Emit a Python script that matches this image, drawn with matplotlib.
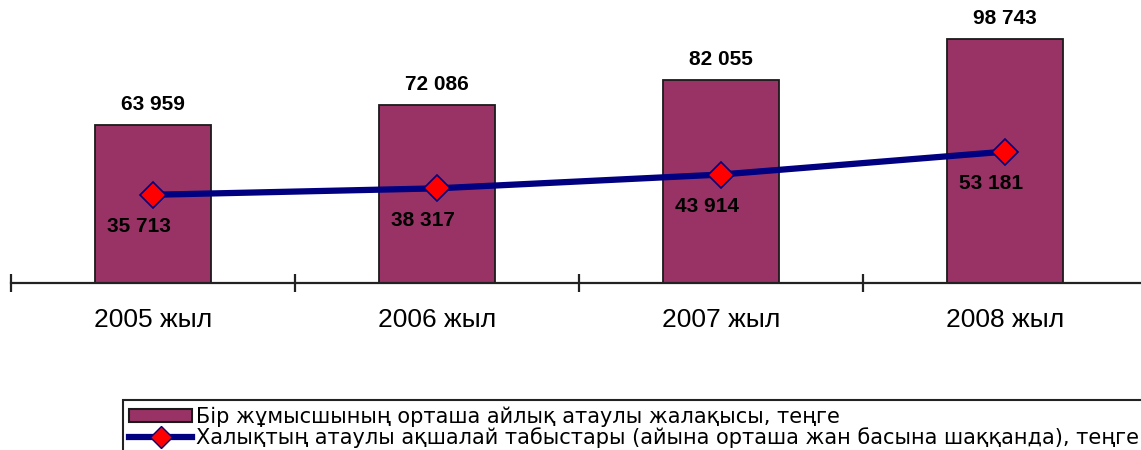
import matplotlib.pyplot as plt
import numpy as np
from matplotlib.lines import Line2D
from matplotlib.patches import Patch

years = ['2005 жыл', '2006 жыл', '2007 жыл', '2008 жыл']
wage = [63959, 72086, 82055, 98743]
income = [35713, 38317, 43914, 53181]
wage_name = 'Бір жұмысшының орташа айлық атаулы жалақысы, теңге'
income_name = 'Халықтың атаулы ақшалай табыстары (айына орташа жан басына шаққанда), теңге'

plt.rcParams['font.family'] = ['Liberation Sans', 'DejaVu Sans']

def fmt(v):
    return f'{v:,}'.replace(',', ' ')

fig = plt.figure(figsize=(11.41, 4.5), dpi=100)
# axis line sits at y=283px, plot spans a bit past the right edge
ax = fig.add_axes([11 / 1141, 1 - 283 / 450, 1136 / 1141, 283 / 450])
x = np.arange(len(years))

ax.bar(x, wage, width=0.405, color='#993366', edgecolor='#1a1a1a', linewidth=1.3, zorder=2)
ax.plot(x, income, color='#000080', linewidth=4.5, marker='D', markersize=13,
        markerfacecolor='#ff0000', markeredgecolor='#000080', markeredgewidth=1.2, zorder=3)

for xi, v in zip(x, wage):
    ax.annotate(fmt(v), (xi, v), xytext=(0, 15), textcoords='offset points',
                ha='center', va='center', fontsize=15, fontweight='bold')
for xi, v in zip(x, income):
    ax.annotate(fmt(v), (xi, v), xytext=(-10, -23), textcoords='offset points',
                ha='center', va='center', fontsize=15, fontweight='bold', zorder=4)

ax.set_xlim(-0.5, 3.5)
ax.set_ylim(0, 114575)
for s in ['top', 'right', 'left']:
    ax.spines[s].set_visible(False)
ax.spines['bottom'].set_linewidth(1.6)
ax.spines['bottom'].set_color('#222222')
ax.set_yticks([])
ax.set_xticks(np.arange(-0.5, 4, 1))
ax.set_xticklabels([])
ax.tick_params(axis='x', direction='inout', length=13, width=1.6, color='#222222')
ax.set_xticks(x, minor=True)
ax.set_xticklabels(years, minor=True, fontsize=19)
ax.tick_params(axis='x', which='minor', length=0, pad=18)

handles = [Patch(facecolor='#993366', edgecolor='#1a1a1a', linewidth=1.5),
           Line2D([], [], color='#000080', linewidth=4.5, marker='D', markersize=11,
                  markerfacecolor='#ff0000', markeredgecolor='#000080')]
leg = fig.legend(handles, [wage_name, income_name], loc='upper left',
                 bbox_to_anchor=(123 / 1141, 1 - 400 / 450),
                 prop={'family': 'DejaVu Sans', 'size': 15},
                 frameon=True, fancybox=False, edgecolor='#222222', framealpha=1,
                 handlelength=3.0, handleheight=0.6, handletextpad=0.2,
                 labelspacing=0.0, borderpad=0.3, borderaxespad=0)
leg.get_frame().set_linewidth(1.5)

fig.savefig('out.png', dpi=100)
